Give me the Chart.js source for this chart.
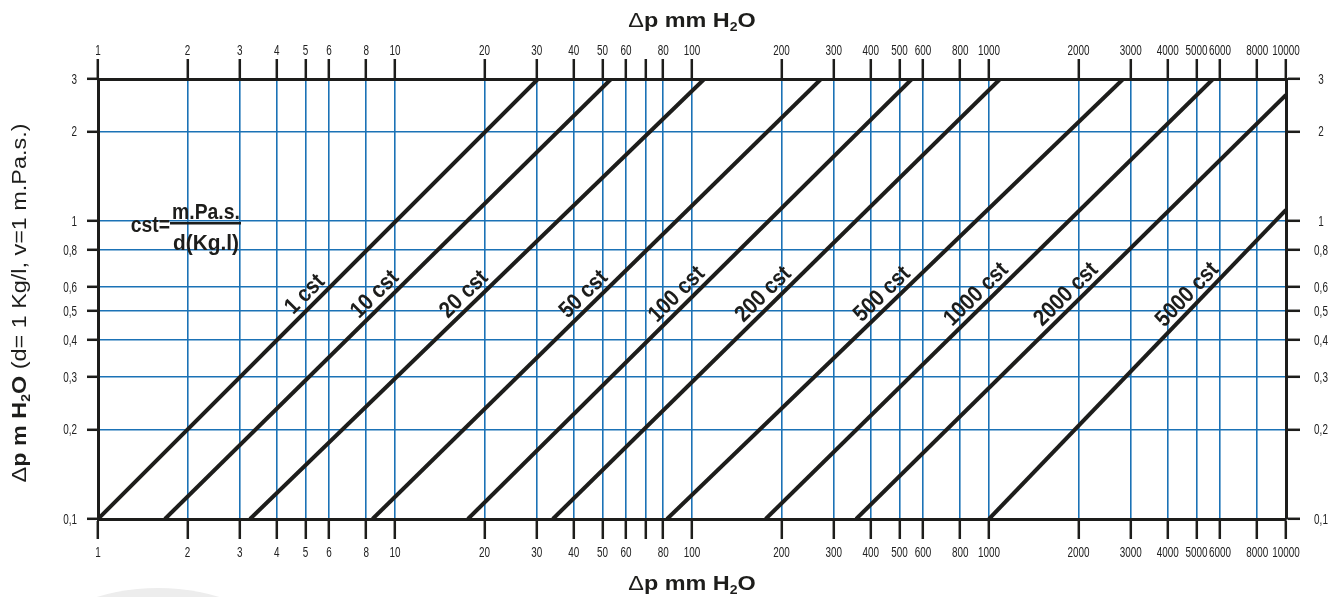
<!DOCTYPE html>
<html>
<head>
<meta charset="utf-8">
<script src="https://cdn.jsdelivr.net/npm/chart.js@4.4.1/dist/chart.umd.min.js"></script>
<style>
  body { margin: 0; background: #fff; }
  #wrap { width: 1337px; height: 597px; position: relative; }
</style>
</head>
<body>
<div id="wrap"><canvas id="chartViscosity"></canvas></div>
<script>
// tick values and labels (log axes)
const xTicks = [1, 2, 3, 4, 5, 6, 8, 10, 20, 30, 40, 50, 60, 70, 80, 100, 200, 300, 400, 500, 600, 800, 1000, 2000, 3000, 4000, 5000, 6000, 8000, 10000];
const xTickLabels = ["1", "2", "3", "4", "5", "6", "8", "10", "20", "30", "40", "50", "60", "", "80", "100", "200", "300", "400", "500", "600", "800", "1000", "2000", "3000", "4000", "5000", "6000", "8000", "10000"];
const yTicks = [0.1, 0.2, 0.3, 0.4, 0.5, 0.6, 0.8, 1, 2, 3];
const yTickLabels = ["0,1", "0,2", "0,3", "0,4", "0,5", "0,6", "0,8", "1", "2", "3"];

// viscosity lines, start and end points
const viscosityLabels = ["1 cst", "10 cst", "20 cst", "50 cst", "100 cst", "200 cst", "500 cst", "1000 cst", "2000 cst", "5000 cst"];
const startX = [1, 1.68, 3.25, 8.4, 17.6, 34, 82.4, 177, 357, 1000];
const startY = [0.1, 0.1, 0.1, 0.1, 0.1, 0.1, 0.1, 0.1, 0.1, 0.1];
const endX = [30.3, 53.4, 110, 272, 550, 1090, 2830, 5680, 10000, 10000];
const endY = [3, 3, 3, 3, 3, 3, 3, 3, 2.65, 1.09];

const BLUE = "#1b72b6";
const INK = "#1d1d1b";
const SANS = '"Liberation Sans", Arial, sans-serif';

const gridColor = (ends) => (ctx) =>
  ctx.tick && ends.includes(ctx.tick.value) ? "rgba(0,0,0,0)" : BLUE;

const xAxis = (position, onArea, size) => ({
  type: "logarithmic",
  position,
  min: 1,
  max: 10000,
  afterBuildTicks: (s) => { s.ticks = xTicks.map((v) => ({ value: v })); },
  afterFit: (s) => { s.height = size; },
  ticks: { display: false, autoSkip: false },
  grid: {
    drawOnChartArea: onArea,
    color: gridColor([1, 10000]),
    lineWidth: 1.6,
    tickColor: INK,
    tickWidth: 2.5,
    tickLength: 20,
  },
  border: { color: INK, width: 3 },
});

const yAxis = (position, onArea, size, tickLen) => ({
  type: "logarithmic",
  position,
  min: 0.1,
  max: 3,
  afterBuildTicks: (s) => { s.ticks = yTicks.map((v) => ({ value: v })); },
  afterFit: (s) => { s.width = size; },
  ticks: { display: false, autoSkip: false },
  grid: {
    drawOnChartArea: onArea,
    color: gridColor([0.1, 3]),
    lineWidth: 1.6,
    tickColor: INK,
    tickWidth: 2.5,
    tickLength: tickLen,
  },
  border: { color: INK, width: 3 },
});

// text squeezed/stretched horizontally (the original uses a condensed face)
function scaledText(ctx, text, x, y, font, sx, align) {
  ctx.save();
  ctx.translate(x, y);
  ctx.scale(sx, 1);
  ctx.font = font;
  ctx.textAlign = align || "center";
  ctx.fillText(text, 0, 0);
  ctx.restore();
}

function richText(ctx, parts, x, y, sx) {
  ctx.save();
  ctx.translate(x, y);
  ctx.scale(sx, 1);
  ctx.textAlign = "left";
  let w = 0;
  parts.forEach((p) => { ctx.font = p.font; w += ctx.measureText(p.text).width; });
  let cx = -w / 2;
  parts.forEach((p) => {
    ctx.font = p.font;
    ctx.fillText(p.text, cx, p.dy || 0);
    cx += ctx.measureText(p.text).width;
  });
  ctx.restore();
}

const overlay = {
  id: "overlay",
  beforeDraw(chart) {
    const { ctx } = chart;
    ctx.save();
    ctx.fillStyle = "#ededed";
    ctx.beginPath();
    ctx.arc(158, 801, 213, 0, Math.PI * 2);
    ctx.fill();
    ctx.restore();
  },
  afterDatasetsDraw(chart) {
    const { ctx, scales: { x, y } } = chart;
    const level = y.getPixelForValue(0.53);
    ctx.save();
    ctx.fillStyle = INK;
    viscosityLabels.forEach((lbl, i) => {
      const x0 = x.getPixelForValue(startX[i]), y0 = y.getPixelForValue(startY[i]);
      const x1 = x.getPixelForValue(endX[i]), y1 = y.getPixelForValue(endY[i]);
      const t = (level - y0) / (y1 - y0);
      ctx.save();
      ctx.translate(x0 + t * (x1 - x0), level);
      ctx.rotate(Math.atan2(y1 - y0, x1 - x0));
      scaledText(ctx, lbl, 0, -6, "bold 23px " + SANS, 0.88, "center");
      ctx.restore();
    });
    ctx.restore();
  },
  afterDraw(chart) {
    const { ctx, chartArea: a, scales } = chart;
    ctx.save();
    ctx.fillStyle = "#222";
    ctx.textBaseline = "alphabetic";

    // tick labels, placed by the chart's scales
    const tf = "15px " + SANS;
    xTicks.forEach((v, i) => {
      const px = scales.x.getPixelForValue(v);
      scaledText(ctx, xTickLabels[i], px, a.bottom + 38, tf, 0.66, "center");
      scaledText(ctx, xTickLabels[i], px, a.top - 24, tf, 0.66, "center");
    });
    yTicks.forEach((v, i) => {
      const py = scales.y.getPixelForValue(v) + 5;
      scaledText(ctx, yTickLabels[i], a.left - 21, py, tf, 0.66, "right");
      scaledText(ctx, yTickLabels[i], a.right + 35, py, tf, 0.66, "center");
    });

    ctx.fillStyle = INK;
    const big = "bold 20px " + SANS;
    const delta = "20px " + SANS;
    const sub = "bold 12px " + SANS;
    const title = [
      { text: "\u0394", font: delta },
      { text: "p mm H", font: big },
      { text: "2", font: sub, dy: 4 },
      { text: "O", font: big },
    ];
    const mid = (a.left + a.right) / 2;
    richText(ctx, title, mid, 27, 1.17);
    richText(ctx, title, mid, 590, 1.17);

    // vertical axis title
    ctx.save();
    ctx.translate(26, (a.top + a.bottom) / 2 + 4);
    ctx.rotate(-Math.PI / 2);
    richText(ctx, [
      { text: "\u0394", font: delta },
      { text: "p m H", font: big },
      { text: "2", font: sub, dy: 4 },
      { text: "O", font: big },
      { text: " (d= 1 Kg/l, v=1 m.Pa.s.)", font: "20px " + SANS },
    ], 0, 0, 1.17);
    ctx.restore();

    // formula
    const f = "bold 22px " + SANS;
    scaledText(ctx, "cst=", a.left + 72, a.top + 153, f, 0.88, "right");
    scaledText(ctx, "m.Pa.s.", a.left + 108, a.top + 140, f, 0.88, "center");
    scaledText(ctx, "d(Kg.l)", a.left + 108, a.top + 171, f, 0.95, "center");
    ctx.fillRect(a.left + 72, a.top + 143, 71, 2.5);
    ctx.restore();
  },
};

const data = {
  datasets: viscosityLabels.map((lbl, i) => ({
    label: lbl,
    data: [
      { x: startX[i], y: startY[i] },
      { x: endX[i], y: endY[i] },
    ],
    borderColor: INK,
    borderWidth: 4,
    pointRadius: 0,
    xAxisID: "x",
    yAxisID: "y",
  })),
};

const config = {
  type: "line",
  data,
  options: {
    responsive: true,
    maintainAspectRatio: false,
    animation: false,
    layout: { padding: 0 },
    plugins: {
      legend: { display: false },
      tooltip: { enabled: false },
      title: { display: false },
    },
    scales: {
      x: xAxis("bottom", true, 78),
      x2: xAxis("top", false, 79),
      y: yAxis("left", true, 98, 11),
      y2: yAxis("right", false, 51, 14),
    },
  },
  plugins: [overlay],
};

const chartViscosity = new Chart(document.getElementById("chartViscosity"), config);
</script>
</body>
</html>
